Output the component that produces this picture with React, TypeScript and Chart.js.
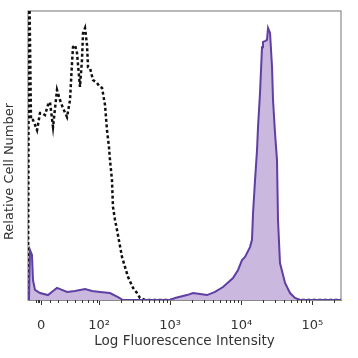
import React, { useEffect, useRef } from "react";
import { Chart, registerables } from "chart.js";

Chart.register(...registerables);

// x values are in display "decades" (biexponential axis), y in % of max count
const DASH_X = [1.0, 1.014, 1.042, 1.07, 1.098, 1.127, 1.169, 1.197, 1.239, 1.281, 1.309, 1.352, 1.408, 1.45, 1.492, 1.549, 1.591, 1.619, 1.633, 1.661, 1.689, 1.731, 1.759, 1.774, 1.802, 1.83, 1.844, 1.872, 1.914, 1.97, 2.013, 2.041, 2.083, 2.111, 2.139, 2.153, 2.181, 2.195, 2.224, 2.252, 2.322, 2.406, 2.477, 2.533, 2.575, 2.646, 5.402];
const DASH_Y = [0, 117.6, 62.3, 62.3, 60.6, 58.8, 64.7, 64.7, 64.0, 67.5, 68.5, 59.9, 72.7, 69.2, 66.4, 63.3, 69.2, 82.0, 87.5, 88.2, 85.5, 73.7, 83.0, 92.4, 94.1, 88.2, 80.6, 80.3, 76.1, 75.1, 73.7, 73.4, 67.5, 58.8, 52.9, 48.4, 41.5, 32.2, 27.7, 24.2, 14.9, 8.0, 4.2, 2.4, 0.7, 0, 0];

const STAIN_X = [1.014, 1.028, 1.056, 1.07, 1.098, 1.169, 1.281, 1.352, 1.408, 1.478, 1.549, 1.661, 1.802, 1.9, 2.013, 2.153, 2.266, 2.336, 2.997, 3.068, 3.236, 3.321, 3.419, 3.518, 3.63, 3.743, 3.883, 3.954, 4.01, 4.052, 4.122, 4.15, 4.165, 4.193, 4.221, 4.235, 4.263, 4.291, 4.305, 4.333, 4.361, 4.376, 4.404, 4.432, 4.446, 4.474, 4.502, 4.516, 4.544, 4.615, 4.685, 4.755, 4.826, 5.402];
const STAIN_Y = [0, 17.3, 15.6, 6.9, 3.5, 2.4, 1.7, 3.1, 4.2, 3.5, 2.8, 3.1, 3.8, 3.1, 2.8, 2.4, 1.0, 0, 0, 0.7, 1.7, 2.4, 2.1, 1.7, 2.8, 4.5, 7.6, 10.4, 13.8, 14.9, 18.3, 20.8, 30.1, 41.5, 51.9, 59.9, 71.6, 87.5, 89.3, 89.6, 90.0, 94.1, 92.4, 80.6, 69.2, 57.8, 48.4, 27.7, 12.8, 5.9, 2.4, 0.7, 0, 0];

const MAJOR_TICKS = [1.183, 2, 3, 4, 5];
const MAJOR_LABELS = ["0", "10²", "10³", "10⁴", "10⁵"];
const MINOR_TICKS = [1.11, 1.14, 1.16, 1.31, 1.42, 1.55, 1.66, 1.76, 1.84, 1.91, 1.97,
  2.301, 2.477, 2.602, 2.699, 2.778, 2.845, 2.903, 2.954,
  3.301, 3.477, 3.602, 3.699, 3.778, 3.845, 3.903, 3.954,
  4.301, 4.477, 4.602, 4.699, 4.778, 4.845, 4.903, 4.954, 5.301];

const X_TITLE = "Log Fluorescence Intensity";
const Y_TITLE = "Relative Cell Number";

const FONT = '"DejaVu Sans", Verdana, sans-serif';

const overlay = {
  id: "overlay",
  beforeDatasetsDraw(chart: any) {
    const { ctx, chartArea: a } = chart;
    ctx.save();
    ctx.strokeStyle = "#8a8a8a";
    ctx.lineWidth = 1.2;
    ctx.strokeRect(a.left, a.top, a.right - a.left, a.bottom - a.top);
    ctx.restore();
  },
  afterDraw(chart: any) {
    const { ctx, chartArea: a } = chart;
    const x = chart.scales.x;
    ctx.save();
    ctx.strokeStyle = "#333";
    ctx.lineWidth = 1;
    MINOR_TICKS.forEach((v) => {
      const px = Math.round(x.getPixelForValue(v)) + 0.5;
      ctx.beginPath();
      ctx.moveTo(px, a.bottom);
      ctx.lineTo(px, a.bottom + 3);
      ctx.stroke();
    });
    ctx.translate(10, (a.top + a.bottom) / 2 + 16);
    ctx.rotate(-Math.PI / 2);
    ctx.textAlign = "center";
    ctx.textBaseline = "middle";
    ctx.font = "13px " + FONT;
    ctx.fillStyle = "#333";
    ctx.fillText(Y_TITLE, 0, 0);
    ctx.restore();
  },
};

export default function App() {
  const ref = useRef<HTMLCanvasElement>(null);
  useEffect(() => {
    document.body.style.margin = "0";
    const chart = new Chart(ref.current as HTMLCanvasElement, {
      type: "line",
      data: {
        datasets: [
          {
            label: "Stained",
            data: STAIN_X.map((x, i) => ({ x, y: STAIN_Y[i] })),
            borderColor: "#5e3fa3",
            backgroundColor: "#cbb8df",
            borderWidth: 2,
            fill: "origin",
            pointRadius: 0,
            tension: 0,
            order: 1,
          },
          {
            label: "Control",
            data: DASH_X.map((x, i) => ({ x, y: DASH_Y[i] })),
            borderColor: "#111",
            borderWidth: 2.5,
            borderDash: [3, 2.5],
            fill: false,
            pointRadius: 0,
            tension: 0,
            order: 2,
          },
        ],
      },
      options: {
        animation: false,
        responsive: false,
        layout: { padding: { left: 28, top: 11, right: 17, bottom: 0 } },
        plugins: { legend: { display: false }, tooltip: { enabled: false } },
        scales: {
          x: {
            type: "linear",
            min: 1,
            max: 5.402,
            afterBuildTicks: (s: any) => {
              s.ticks = MAJOR_TICKS.map((v) => ({ value: v }));
            },
            afterFit: (s: any) => {
              s.height = 58;
            },
            ticks: {
              autoSkip: false,
              maxRotation: 0,
              padding: 13,
              color: "#333",
              font: { family: FONT, size: 13 },
              callback: (_v: any, i: number) => MAJOR_LABELS[i],
            },
            grid: { drawOnChartArea: false, drawTicks: true, tickLength: 5, color: "#333" },
            border: { display: true, color: "#8a8a8a" },
            title: {
              display: true,
              text: X_TITLE,
              color: "#333",
              font: { family: FONT, size: 13.5 },
              padding: { top: 0, bottom: 8 },
            },
          },
          y: { display: false, min: 0, max: 100 },
        },
      },
      plugins: [overlay],
    });
    return () => chart.destroy();
  }, []);
  return (
    <div style={{ width: 358, height: 358 }}>
      <canvas ref={ref} width={358} height={358} />
    </div>
  );
}
